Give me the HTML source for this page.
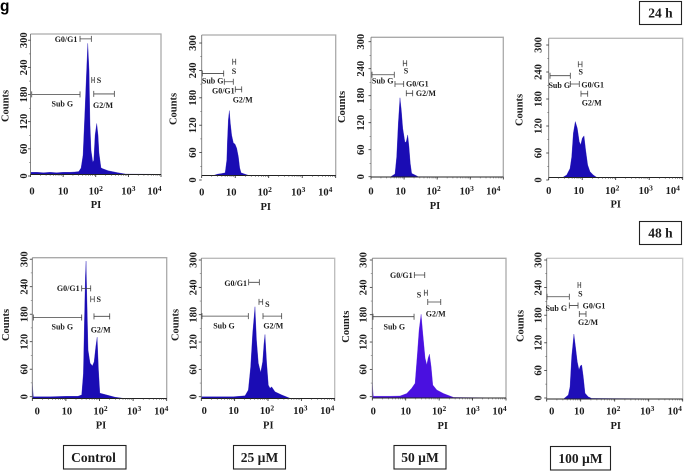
<!DOCTYPE html>
<html>
<head>
<meta charset="utf-8">
<title>PI flow cytometry histograms</title>
<style>
html,body{margin:0;padding:0;background:#fff;}
body{width:684px;height:471px;overflow:hidden;}
svg{display:block;filter:blur(.35px);}
text{font-family:"Liberation Serif",serif;font-weight:bold;fill:#1c1c1c;}
</style>
</head>
<body>
<svg id="figure" xmlns="http://www.w3.org/2000/svg" width="684" height="471" viewBox="0 0 684 471">
  <text x="0" y="11" style="font-family:'Liberation Sans',sans-serif;font-size:15.5px;fill:#000">g</text>
  <g>
    <rect x="639.5" y="1.5" width="42" height="23" fill="#fff" stroke="#222" stroke-width="1.1"/>
    <text x="660.5" y="17.5" text-anchor="middle" style="font-size:13.5px">24 h</text>
  </g>
  <g>
    <rect x="639.5" y="221.5" width="42" height="23" fill="#fff" stroke="#222" stroke-width="1.1"/>
    <text x="660.5" y="237.5" text-anchor="middle" style="font-size:13.5px">48 h</text>
  </g>
  <g>
    <rect x="63.5" y="445.5" width="62.5" height="23.5" fill="#fff" stroke="#222" stroke-width="1.1"/>
    <text x="93.5" y="462" text-anchor="middle" style="font-size:13.5px">Control</text>
  </g>
  <g>
    <rect x="233.5" y="445.5" width="52" height="23.5" fill="#fff" stroke="#222" stroke-width="1.1"/>
    <text x="259.5" y="462" text-anchor="middle" style="font-size:13.5px">25 µM</text>
  </g>
  <g>
    <rect x="394" y="445.5" width="52" height="23.5" fill="#fff" stroke="#222" stroke-width="1.1"/>
    <text x="420" y="462" text-anchor="middle" style="font-size:13.5px">50 µM</text>
  </g>
  <g>
    <rect x="550.5" y="446.5" width="60" height="23.5" fill="#fff" stroke="#222" stroke-width="1.1"/>
    <text x="580.5" y="463" text-anchor="middle" style="font-size:13.5px">100 µM</text>
  </g>
</svg>
<script>
// Axis data
const xTickDecades = [0, 1, 2, 3, 4];
const xTickBases = ['0', '10', '10', '10', '10'];
const xTickExponents = ['', '', '2', '3', '4'];
const yTickCounts = [0, 60, 120, 180, 240, 300];
const minorFactors = [2, 3, 4, 5, 6, 7, 8, 9];

// Histograms: PI position in decades, event counts
const control24hPI = [0,0.2,0.4,0.6,0.8,1,1.2,1.36,1.48,1.55,1.61,1.67,1.72,1.755,1.795,1.825,1.856,1.91,1.94,1.98,2.03,2.07,2.1,2.16,2.21,2.38,2.68,2.91,4];
const control24hCounts = [5,5,4,5,4,5,5,5.6,6.7,14.5,43,144,233,293,233,110,54,27,32,88,114,88,48,15,13,8.5,4,1,0.5];
const dose25_24hPI = [0.35,0.47,0.6,0.7,0.75,0.765,0.795,0.825,0.855,0.895,0.945,0.995,1.045,1.095,1.135,1.175,1.29,1.39,4];
const dose25_24hCounts = [0,3,4.5,6,35,73,124,145,117,90,73,70,61,42,17,6,3,0.5,0];
const dose50_24hPI = [0.595,0.725,0.776,0.825,0.876,0.916,0.96,1.027,1.066,1.11,1.148,1.187,1.23,1.33,1.43,4];
const dose50_24hCounts = [0.7,6.7,45,120,177,150,109,77,79,94,68,31,8,4.5,0.7,0];
const dose100_24hPI = [0.436,0.537,0.636,0.687,0.735,0.794,0.854,0.913,0.955,1.003,1.054,1.104,1.164,1.233,1.33,1.433,4];
const dose100_24hCounts = [1,5.6,20,46,99,125,110,80,73,88,93,61,28,13,5.6,0.4,0];
const control48hPI = [0,0.03,0.53,1.02,1.36,1.47,1.52,1.55,1.58,1.6,1.63,1.66,1.72,1.79,1.84,1.89,1.93,1.97,2.01,2.21,2.46,2.7,4];
const control48hCounts = [35,4,4,5,5,8,56,168,272,307,205,108,79,73,82,116,137,64,12,8,3,0.5,0];
const dose25_48hPI = [0,0.46,0.96,1.31,1.41,1.48,1.54,1.61,1.655,1.71,1.78,1.84,1.88,1.91,1.96,2.01,2.06,2.11,2.21,2.41,2.66,4];
const dose25_48hCounts = [4,4,4,6,19,71,146,205,131,79,58,82,123,143,79,30,23,26,15,8,0.5,0];
const dose50_48hPI = [0,0.03,0.53,0.83,1.03,1.18,1.28,1.35,1.4,1.46,1.51,1.58,1.63,1.67,1.71,1.76,1.81,1.93,2.13,2.43,4];
const dose50_48hCounts = [34,4,4,4.5,10,22,33,100,152,187,145,89,74,89,98,70,29,18,10,1.5,0];
const dose100_48hPI = [0.51,0.635,0.685,0.735,0.8,0.853,0.9,0.95,0.99,1.03,1.076,1.127,1.22,1.32,4];
const dose100_48hCounts = [1,9,27,95,145,113,83,65,74,76,50,13,5,1.5,0];

// Gates: name, start decade, end decade, count level, label decade, label count
const control24hGates = [['G0/G1',1.518,1.865,303,1.089,302],['S',1.877,1.957,211,2.1,210],['Sub G',0.037,1.518,179,0.975,157.5],['G2/M',1.939,2.57,180,2.224,154.6]];
const dose25_24hGates = [['S',0.925,1.015,254,0.964,233],['Sub G',0.018,0.657,228,0.328,212],['G0/G1',0.675,0.943,209.5,0.645,189],['G2/M',1.003,1.194,192.5,1.224,168.7]];
const dose50_24hGates = [['S',0.976,1.079,254,1.057,237.5],['Sub G',0.03,0.704,228.5,0.353,214.5],['G0/G1',0.725,0.988,207.8,1.4,207.8],['G2/M',1.067,1.26,187,1.66,187]];
const dose100_24hGates = [['S',0.884,0.994,253,0.955,235.7],['Sub G',0.039,0.645,227.4,0.316,206],['G0/G1',0.645,0.913,208.9,1.313,207.3],['G2/M',0.964,1.164,187,1.284,167]];
const control48hGates = [['G0/G1',1.47,1.738,246,1.07,246],['S',1.738,1.845,222,1.976,222],['Sub G',0.03,1.47,181,0.893,160],['G2/M',1.836,2.304,183.6,2.036,153]];
const dose25_48hGates = [['G0/G1',1.42,1.74,259.6,1.03,257],['S',1.73,1.84,216,1.98,211],['Sub G',0.02,1.41,184,0.68,162.7],['G2/M',1.85,2.41,184,2.16,162.7]];
const dose50_48hGates = [['G0/G1',1.258,1.569,274.8,0.868,274],['S',1.557,1.647,235,1.398,230.8],['Sub G',0.021,1.249,181.6,0.659,159],['G2/M',1.659,2.048,214.5,1.898,187.7]];
const dose100_48hGates = [['S',0.92,1,254.7,0.988,234.6],['Sub G',0.009,0.665,228.5,0.282,202.6],['G0/G1',0.665,0.921,209,1.391,207.8],['G2/M',0.959,1.156,190,1.215,171]];

const countsPerPlot = 315;
const plotHeightForScale = 141;
const NS = 'http://www.w3.org/2000/svg';
const figure = document.getElementById('figure');

const panels = [
 {id:'control-24h',  pi:control24hPI,  counts:control24hCounts,  gates:control24hGates,  l:30.5, t:34,    r:161,   b:174.5, fill:'#1a0cb4', tx0:1.5,tx:0,   ty0:1.5, ty300:0,   ly:23.5, cx:5,   cy:106, px:96,   py:208, xly:194.5, topC:'#aaa'},
 {id:'25um-24h',     pi:dose25_24hPI,  counts:dose25_24hCounts,  gates:dose25_24hGates,  l:201.7,t:35,    r:335.7, b:175.5, fill:'#1a0cb4', tx0:0,  tx:-4,  ty0:4.5, ty300:1.8, ly:192.7,cx:173, cy:109, px:265.7,py:210, xly:195.5, topC:'#aaa'},
 {id:'50um-24h',     pi:dose50_24hPI,  counts:dose50_24hCounts,  gates:dose50_24hGates,  l:371,  t:37.3,  r:503.3, b:177,   fill:'#1a0cb4', tx0:0,  tx:-3.5,ty0:-0.3,ty300:-1,  ly:360.7,cx:341.7,cy:107, px:435,  py:209, xly:194.5, topC:'#aaa'},
 {id:'100um-24h',    pi:dose100_24hPI, counts:dose100_24hCounts, gates:dose100_24hGates, l:548.7,t:38.3,  r:682.7, b:177.5, fill:'#1a0cb4', tx0:0,  tx:-3.5,ty0:2.5, ty300:1.8, ly:538,  cx:519, cy:110, px:615.7,py:207.5,xly:194,topC:'#bbb'},
 {id:'control-48h',  pi:control48hPI,  counts:control48hCounts,  gates:control48hGates,  l:32.3, t:257.7, r:166.7, b:398.5, fill:'#1a0cb4', tx0:5,  tx:1,   ty0:-1.8,ty300:-5,  ly:24,   cx:5.7, cy:325, px:101,  py:428.5,xly:414.5, topC:'#aaa'},
 {id:'25um-48h',     pi:dose25_48hPI,  counts:dose25_48hCounts,  gates:dose25_48hGates,  l:201.3,t:258.3, r:334.7, b:398.5, fill:'#1a0cb4', tx0:3,  tx:-1,  ty0:-1.8,ty300:-4.2,ly:193.3,cx:175, cy:325, px:268.3,py:428.5,xly:414,topC:'#bbb'},
 {id:'50um-48h',     pi:dose50_48hPI,  counts:dose50_48hCounts,  gates:dose50_48hGates,  l:372.3,t:258.3, r:506,   b:398,   fill:'#4a10e0', tx0:1,  tx:0,   ty0:-1.3,ty300:-3.7,ly:363,  cx:345.7,cy:326.7,px:442.7,py:429, xly:414.5, topC:'#aaa'},
 {id:'100um-48h',    pi:dose100_48hPI, counts:dose100_48hCounts, gates:dose100_48hGates, l:546.7,t:258.3, r:682.7, b:399,   fill:'#1e0eb8', tx0:5,  tx:-1.5,ty0:-1,  ty300:-4.7,ly:538.3,cx:520, cy:326, px:615.7,py:429, xly:414.5, topC:'#ccc'}
];

function make(tag, attrs, parent, text) {
  const node = document.createElementNS(NS, tag);
  Object.keys(attrs).forEach(function (k) { node.setAttribute(k, attrs[k]); });
  if (text !== undefined) node.textContent = text;
  parent.appendChild(node);
  return node;
}

panels.forEach(function (p) {
  const xScale = function (d) { return p.l + d * (p.r - p.l) / 4; };
  const yScale = function (c) { return p.b - c * plotHeightForScale / countsPerPlot; };
  const yLabelPos = function (c) { return yScale(c) + p.ty0 + (p.ty300 - p.ty0) * c / 300; };

  const group = make('g', {}, figure);
  
  

  const frame = make('path', {d:'M' + p.l + ' ' + p.t + 'H' + p.r + 'V' + p.b, fill:'none', stroke:p.topC, 'stroke-width':1.3}, group);
  
  

  let outline = 'M' + xScale(p.pi[0]).toFixed(2) + ' ' + p.b;
  p.pi.forEach(function (d, i) {
    outline += 'L' + xScale(d).toFixed(2) + ' ' + yScale(p.counts[i]).toFixed(2);
  });
  outline += 'L' + xScale(p.pi[p.pi.length - 1]).toFixed(2) + ' ' + p.b + 'Z';
  const area = make('path', {d:outline, fill:p.fill, stroke:p.fill, 'stroke-width':0.3}, group);
  
  

  const leftAxis = make('path', {d:'M' + p.l + ' ' + p.t + 'V' + p.b, fill:'none', stroke:'#777', 'stroke-width':0.9}, group);
  
  

  const bottomAxis = make('path', {d:'M' + p.l + ' ' + p.b + 'H' + p.r, fill:'none', stroke:'#222', 'stroke-width':0.9}, group);
  
  

  // Minor ticks on the log x axis
  let minor = '';
  xTickDecades.slice(0, -1).forEach(function (d) {
    minorFactors.forEach(function (f) {
      const x = xScale(d + Math.log10(f));
      minor += 'M' + x.toFixed(2) + ' ' + p.b + 'v1.4';
    });
  });
  const minorTicks = make('path', {d:minor, stroke:'#444', 'stroke-width':0.5, fill:'none'}, group);
  
  

  xTickDecades.forEach(function (d, i) {
    const tick = make('line', {x1:xScale(d), x2:xScale(d), y1:p.b, y2:p.b + 2.5, stroke:'#222', 'stroke-width':0.8}, group);
    
    
    const shift = i === 0 ? p.tx0 : (i === xTickDecades.length - 1 ? p.tx - 6.5 : p.tx);
    const label = make('text', {x:xScale(d) + shift, y:p.xly, 'text-anchor':'middle', 'font-size':10.5}, group, xTickBases[i]);
    
    
    if (xTickExponents[i]) {
      const exponent = make('tspan', {dy:-3.5, 'font-size':7.5}, label, xTickExponents[i]);
      
      
    }
  });

  yTickCounts.forEach(function (c) {
    const y = yLabelPos(c);
    const tick = make('line', {x1:p.l - 2.5, x2:p.l, y1:y, y2:y, stroke:'#333', 'stroke-width':0.8}, group);
    
    
    if (c > 0) {
      const minorTick = make('line', {x1:p.l - 1.5, x2:p.l, y1:y + 13.7, y2:y + 13.7, stroke:'#555', 'stroke-width':0.5}, group);
      
      
    }
    const label = make('text', {transform:'translate(' + (p.ly + 3.4) + ' ' + y + ') rotate(-90)', 'text-anchor':'middle', 'font-size':10.5}, group, String(c));
    
    
  });

  p.gates.forEach(function (g) {
    const y = yScale(g[3]);
    const x0 = xScale(g[1]);
    const x1 = xScale(g[2]);
    const marker = make('path', {d:'M' + x0 + ' ' + (y - 3) + 'v6M' + x1 + ' ' + (y - 3) + 'v6M' + x0 + ' ' + y + 'H' + x1, stroke:'#444', 'stroke-width':0.8, fill:'none'}, group);
    
    
    const label = make('text', {x:xScale(g[4]), y:yScale(g[5]) + 2.7, 'text-anchor':'middle', 'font-size':8}, group, g[0]);
    
    
  });

  const yTitle = make('text', {transform:'translate(' + (p.cx + 3.5) + ' ' + p.cy + ') rotate(-90)', 'text-anchor':'middle', 'font-size':10.5}, group, 'Counts');
  
  

  const xTitle = make('text', {x:p.px, y:p.py, 'text-anchor':'middle', 'font-size':10.5}, group, 'PI');
  
  
});
</script>
</body>
</html>
